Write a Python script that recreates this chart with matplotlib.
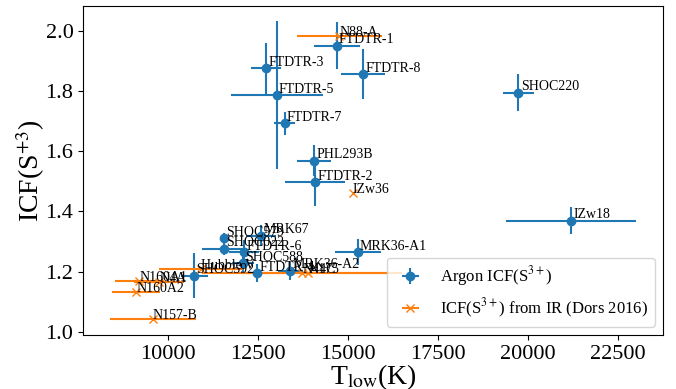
import matplotlib
matplotlib.use("Agg")
import matplotlib.pyplot as plt
import numpy as np

plt.rcParams["font.family"] = "serif"
plt.rcParams["font.serif"] = ["Liberation Serif", "DejaVu Serif"]
plt.rcParams["mathtext.fontset"] = "stix"

# Argon-based ICF(S3+) sample
ar_names = ["FTDTR-1", "FTDTR-3", "FTDTR-5", "FTDTR-7", "FTDTR-8", "SHOC220",
            "PHL293B", "FTDTR-2", "IZw18", "MRK36-A1", "MRK67", "SHOC579",
            "SHOC022", "FTDTR-6", "SHOC588", "SHOC592", "FTDTR-4", "MRK36-A2"]
ar_t = np.array([14700, 12736, 13033, 13255, 15431, 19745,
                 14069, 14097, 21208, 15283, 12597, 11578,
                 11578, 12133, 12097, 10744, 12486, 13403])
ar_t_err = np.array([640, 425, 1270, 287, 620, 425,
                     480, 825, 1797, 630, 420, 120,
                     625, 415, 300, 370, 300, 350])
ar_icf = np.array([1.951, 1.876, 1.787, 1.693, 1.856, 1.795,
                   1.569, 1.497, 1.370, 1.265, 1.320, 1.311,
                   1.277, 1.265, 1.229, 1.187, 1.195, 1.203])
ar_icf_err = np.array([0.077, 0.085, 0.245, 0.039, 0.082, 0.061,
                       0.052, 0.080, 0.045, 0.044, 0.036, 0.017,
                       0.020, 0.040, 0.030, 0.075, 0.030, 0.030])

# ICF(S3+) from IR (Dors 2016)
ir_names = ["N88-A", "IZw36", "N160A1", "N4A", "N160A2", "N157-B",
            "Hubble V", "N44C", "N175"]
ir_t = np.array([14772, 15144, 9217, 9764, 9125, 9589, 10930, 13736, 13903])
ir_t_err = np.array([1170, 0, 680, 700, 670, 1190, 1170, 2780, 2500])
ir_icf = np.array([1.983, 1.461, 1.169, 1.167, 1.132, 1.043, 1.209, 1.195, 1.197])

fig, ax = plt.subplots(figsize=(6.76, 3.89), dpi=100)
fig.subplots_adjust(left=0.123, right=0.981, top=0.985, bottom=0.139)

ax.errorbar(ar_t, ar_icf, xerr=ar_t_err, yerr=ar_icf_err, fmt="o",
            color="tab:blue", label=r"Argon ICF(S$^{3+}$)")
ax.errorbar(ir_t, ir_icf, xerr=ir_t_err, fmt="x",
            color="tab:orange", label=r"ICF(S$^{3+}$) from IR (Dors 2016)")

for name, t, v in zip(ar_names, ar_t, ar_icf):
    ax.text(t + 60, v + 0.008, name, fontsize=10)
for name, t, v in zip(ir_names, ir_t, ir_icf):
    ax.text(t, v, name, fontsize=10)

ax.set_xlim(7653, 23764)
ax.set_ylim(0.99, 2.083)
ax.set_xticks([10000, 12500, 15000, 17500, 20000, 22500])
ax.set_yticks([1.0, 1.2, 1.4, 1.6, 1.8, 2.0])
ax.tick_params(labelsize=16)
ax.set_xlabel(r"T$_{\rm low}$(K)", fontsize=20, labelpad=-1)
ax.set_ylabel(r"ICF(S$^{+3}$)", fontsize=20, labelpad=-1)
ax.legend(loc="lower right", fontsize=12)

fig.savefig("out.png", dpi=100)
